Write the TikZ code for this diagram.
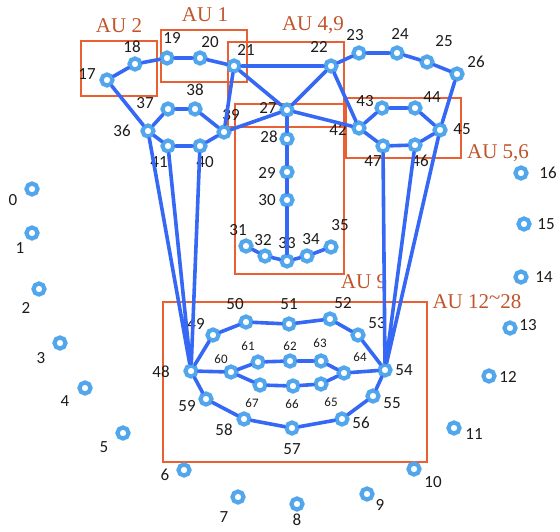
\documentclass[tikz,border=0pt]{standalone}
\usepackage{fontspec}
\setmainfont{Carlito}
\newfontfamily\aufont{Liberation Serif}
\definecolor{ringblue}{RGB}{82,166,235}
\definecolor{edgeblue}{RGB}{52,104,245}
\definecolor{boxred}{RGB}{234,96,50}
\definecolor{autext}{RGB}{192,84,42}
\definecolor{numgray}{RGB}{28,28,28}
\tikzset{
  lmk/.style={circle, draw=ringblue, fill=white, line width=4.2pt, minimum size=11pt, inner sep=0pt},
  num/.style={font=\fontsize{17}{17}\selectfont, text=numgray, inner sep=0pt},
  numsmall/.style={font=\fontsize{13}{13}\selectfont, text=numgray, inner sep=0pt},
  edge/.style={draw=edgeblue, line width=3.6pt, line cap=round},
  aubox/.style={draw=boxred, line width=2pt},
  aulabel/.style={font=\aufont\fontsize{21}{21}\selectfont, text=autext, inner sep=0pt},
}
% landmark with its number label
\newcommand\lm[5]{\node[lmk] (p#1) at (#2,#3) {}; \node[num] (t#1) at (#4,#5) {#1};}
\newcommand\lms[5]{\node[lmk] (p#1) at (#2,#3) {}; \node[numsmall] (t#1) at (#4,#5) {#1};}
\begin{document}
\begin{tikzpicture}[x=1pt, y=-1pt]
\useasboundingbox (0,0) rectangle (560,531);

% action unit regions
\draw[aubox] (81,41) rectangle (157,96);
\draw[aubox] (161,30) rectangle (247,82);
\draw[aubox] (228,42) rectangle (344,127);
\draw[aubox] (235,104) rectangle (344,274);
\draw[aubox] (346,98) rectangle (461,158);
\draw[aubox] (163,302) rectangle (427,462);
\node[aulabel] (au2) at (119,26) {AU 2};
\node[aulabel] (au1) at (205,15) {AU 1};
\node[aulabel] (au49) at (313,25) {AU 4,9};
\node[aulabel] (au9) at (364,282) {AU 9};
\node[aulabel] (au56) at (498,153) {AU 5,6};
\node[aulabel] (au1228) at (477,302) {AU 12\raisebox{0.5ex}{\textasciitilde}28};

% jaw line
\lm{0}{32}{189}{13}{200}
\lm{1}{32}{233}{20}{248}
\lm{2}{39}{289}{26}{308}
\lm{3}{60}{343}{41}{358}
\lm{4}{85}{388}{65}{401}
\lm{5}{123}{433}{104}{447}
\lm{6}{184}{470}{165}{475}
\lm{7}{238}{497}{224}{517}
\lm{8}{297}{504}{297}{520}
\lm{9}{367}{494}{380}{505}
\lm{10}{414}{469}{433}{482}
\lm{11}{454}{428}{474}{434}
\lm{12}{489}{376}{508}{377}
\lm{13}{510}{328}{528}{325}
\lm{14}{521}{277}{544}{277}
\lm{15}{524}{224}{546}{224}
\lm{16}{521}{173}{548}{173}

% brows
\lm{17}{107}{80}{87}{74}
\lm{18}{135}{64}{132}{47}
\lm{19}{167}{58}{172}{38}
\lm{20}{200}{58}{210}{42}
\lm{21}{234}{66}{246}{50}
\lm{22}{331}{66}{319}{47}
\lm{23}{359}{53}{355}{35}
\lm{24}{397}{53}{400}{34}
\lm{25}{427}{62}{444}{41}
\lm{26}{457}{74}{476}{62}

% nose
\lm{27}{287}{110}{268}{108}
\lm{28}{287}{139}{269}{137}
\lm{29}{287}{172}{267}{173}
\lm{30}{287}{200}{267}{200}
\lm{31}{246}{246}{238}{230}
\lm{32}{265}{256}{263}{240}
\lm{33}{287}{261}{287}{243}
\lm{34}{307}{256}{311}{239}
\lm{35}{331}{247}{340}{225}

% eyes
\lm{36}{148}{131}{122}{131}
\lm{37}{168}{109}{145}{103}
\lm{38}{195}{109}{195}{90}
\lm{39}{224}{132}{231}{115}
\lm{40}{200}{146}{205}{162}
\lm{41}{168}{146}{159}{162}
\lm{42}{359}{128}{338}{130}
\lm{43}{382}{108}{365}{101}
\lm{44}{415}{108}{432}{97}
\lm{45}{440}{130}{462}{129}
\lm{46}{415}{145}{420}{161}
\lm{47}{383}{146}{373}{161}

% outer lip
\lm{48}{191}{371}{161}{372}
\lm{49}{213}{335}{196}{324}
\lm{50}{246}{322}{235}{304}
\lm{51}{289}{324}{289}{304}
\lm{52}{330}{319}{343}{303}
\lm{53}{358}{335}{377}{323}
\lm{54}{385}{370}{404}{370}
\lm{55}{373}{396}{392}{403}
\lm{56}{342}{419}{361}{423}
\lm{57}{292}{428}{292}{449}
\lm{58}{244}{419}{224}{430}
\lm{59}{206}{399}{187}{406}

% inner lip
\lms{60}{231}{372}{221}{359}
\lms{61}{258}{362}{248}{346}
\lms{62}{290}{361}{290}{346}
\lms{63}{321}{361}{320}{343}
\lms{64}{344}{373}{360}{357}
\lms{65}{321}{384}{331}{402}
\lms{66}{293}{386}{292}{404}
\lms{67}{260}{385}{252}{403}

% connectors
\path[edge] (p17) -- (p18) -- (p19) -- (p20) -- (p21) -- (p22) -- (p23) -- (p24) -- (p25) -- (p26);
\path[edge] (p21) -- (p27) (p22) -- (p27) (p21) -- (p39) (p22) -- (p42);
\path[edge] (p39) -- (p27) -- (p42);
\path[edge] (p27) -- (p28) -- (p29) -- (p30) -- (p33);
\path[edge] (p31) -- (p32) -- (p33) -- (p34) -- (p35);
\path[edge] (p36) -- (p37) -- (p38) -- (p39) -- (p40) -- (p41) -- (p36);
\path[edge] (p42) -- (p43) -- (p44) -- (p45) -- (p46) -- (p47) -- (p42);
\path[edge] (p17) -- (p36) (p36) -- (p48) (p41) -- (p48) (p40) -- (p48);
\path[edge] (p26) -- (p45) (p45) -- (p54) (p46) -- (p54) (p47) -- (p54);
\path[edge] (p48) -- (p49) -- (p50) -- (p51) -- (p52) -- (p53) -- (p54) -- (p55) -- (p56) -- (p57) -- (p58) -- (p59) -- (p48);
\path[edge] (p60) -- (p61) -- (p62) -- (p63) -- (p64) -- (p65) -- (p66) -- (p67) -- (p60);
\path[edge] (p48) -- (p60) (p64) -- (p54);
\end{tikzpicture}
\end{document}
